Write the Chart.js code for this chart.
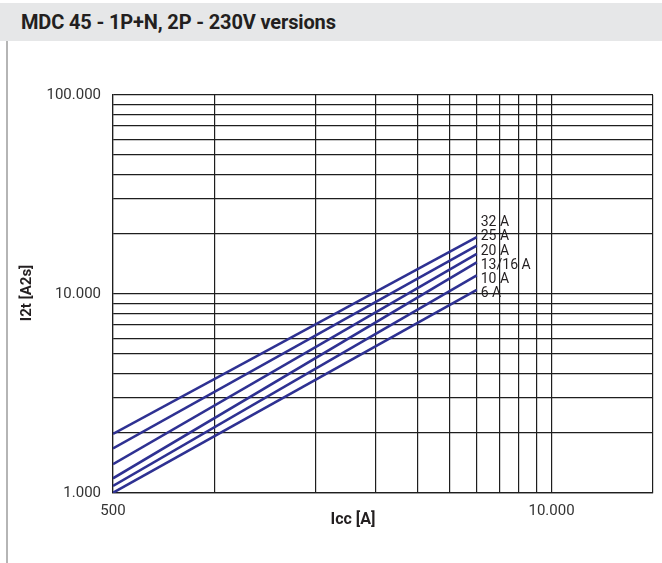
<!DOCTYPE html>
<html>
<head>
<meta charset="utf-8">
<script src="https://cdn.jsdelivr.net/npm/chart.js@4.4.1/dist/chart.umd.min.js"></script>
<style>
  html, body { margin: 0; padding: 0; background: #fff; }
  body { width: 662px; height: 563px; position: relative; overflow: hidden; }
  .head { position: absolute; left: 0; top: 3px; width: 662px; height: 38px; background: #e6e7e8; }
  .head h1 { margin: 0; position: absolute; left: 21px; top: 8px; font: bold 20px Roboto, sans-serif;
    color: #231f20; letter-spacing: -0.15px; line-height: 22px; }
  .edge { position: absolute; left: 6px; top: 41px; width: 2px; height: 522px; background: #b5b5b5; }
  canvas { position: absolute; left: 0; top: 0; }
</style>
</head>
<body>
<div class="head"><h1>MDC 45 - 1P+N, 2P - 230V versions</h1></div>
<div class="edge"></div>
<canvas id="c" width="662" height="563"></canvas>
<script>
// I2t let-through curves, log-log.
const ratings = ["32 A", "25 A", "20 A", "13/16 A", "10 A", "6 A"];
const iccRange = [500, 6000];                          // A, start / end of every curve
const i2tStart = [1980, 1675, 1395, 1185, 1085, 1003];  // A2s at 500 A
const i2tEnd = [19300, 17500, 15900, 14400, 12400, 10500]; // A2s at 6000 A

const xGrid = [500, 1000, 2000, 3000, 4000, 5000, 6000, 7000, 8000, 9000, 10000, 20000];
const yGrid = [1000, 2000, 3000, 4000, 5000, 6000, 7000, 8000, 9000,
  10000, 20000, 30000, 40000, 50000, 60000, 70000, 80000, 90000, 100000];
const xLabels = { 500: "500", 10000: "10.000" };
const yLabels = { 1000: "1.000", 10000: "10.000", 100000: "100.000" };

const LINE = "#2e3192";
const GRID = "#1e1e1e";
const FONT = "Roboto, sans-serif";

const datasets = ratings.map((r, i) => ({
  label: r,
  data: [{ x: iccRange[0], y: i2tStart[i] }, { x: iccRange[1], y: i2tEnd[i] }],
  borderColor: LINE, borderWidth: 2.6, pointRadius: 0, fill: false, tension: 0,
}));

// curve names stacked next to the line ends, and the two axis titles
const annotate = {
  id: "annotate",
  afterDraw(chart) {
    const { ctx, scales: { x, y } } = chart;
    ctx.save();
    ctx.fillStyle = "#231f20";
    ctx.font = "14px " + FONT;
    ctx.textBaseline = "middle";
    ctx.textAlign = "left";
    const lx = x.getPixelForValue(iccRange[1]) + 4;
    const base = y.getPixelForValue(i2tEnd[i2tEnd.length - 1]) + 4;
    ratings.slice().reverse().forEach((r, k) => ctx.fillText(r, lx, base - k * 14.2));

    ctx.font = "bold 16px " + FONT;
    ctx.textAlign = "center";
    ctx.fillText("Icc [A]", 353, 520);
    ctx.font = "bold 15px " + FONT;
    ctx.translate(27, 293);
    ctx.rotate(-Math.PI / 2);
    ctx.fillText("I2t [A2s]", 0, 0);
    ctx.restore();
  },
};

new Chart(document.getElementById("c"), {
  type: "line",
  data: { datasets },
  plugins: [annotate],
  options: {
    responsive: false, animation: false,
    layout: { padding: { left: 8, right: 7, top: 95, bottom: 0 } },
    plugins: { legend: { display: false }, tooltip: { enabled: false } },
    scales: {
      x: {
        type: "logarithmic", min: 500, max: 20000,
        afterBuildTicks: (s) => { s.ticks = xGrid.map((v) => ({ value: v })); },
        afterFit: (s) => { s.height = 70; },
        grid: { color: GRID, lineWidth: 1.2, drawTicks: false },
        border: { color: GRID, width: 1.2 },
        ticks: { autoSkip: false, maxRotation: 0, padding: 9, color: "#333",
          font: { family: FONT, size: 15 }, callback: (v) => xLabels[v] || "" },
      },
      y: {
        type: "logarithmic", min: 1000, max: 100000,
        afterBuildTicks: (s) => { s.ticks = yGrid.map((v) => ({ value: v })); },
        afterFit: (s) => { s.width = 105; },
        grid: { color: GRID, lineWidth: 1.2, drawTicks: false },
        border: { color: GRID, width: 1.2 },
        ticks: { autoSkip: false, padding: 12, color: "#333",
          font: { family: FONT, size: 15 }, callback: (v) => yLabels[v] || "" },
      },
    },
  },
});
</script>
</body>
</html>
